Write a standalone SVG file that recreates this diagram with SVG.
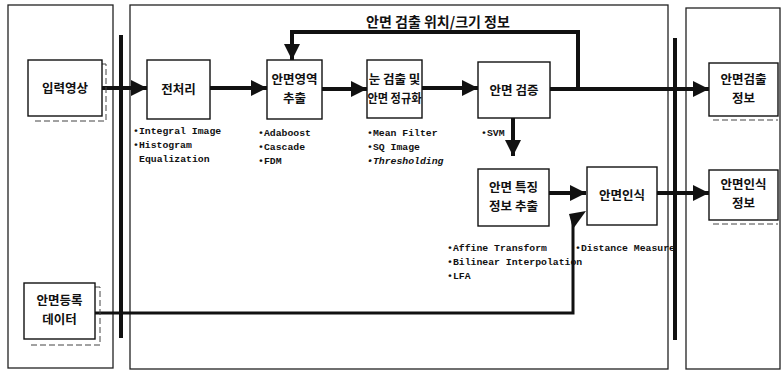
<svg xmlns="http://www.w3.org/2000/svg" width="782" height="372" viewBox="0 0 782 372">
<defs>
<style>
.panel{fill:none;stroke:#222;stroke-width:1.3}
.bar{fill:#111}
.box{fill:#fff;stroke:#111;stroke-width:1.4}
.shadow{fill:none;stroke:#444;stroke-width:1;stroke-dasharray:6 3}
.lbl{font-family:"Noto Sans CJK KR","Noto Sans",sans-serif;font-weight:bold;font-size:12.5px;fill:#111;text-anchor:middle}
.note{font-family:"Liberation Mono","DejaVu Sans Mono",monospace;font-weight:bold;font-size:9.8px;fill:#111}
.title{font-family:"Noto Sans CJK KR",sans-serif;font-weight:bold;font-size:14px;fill:#111;text-anchor:middle}
.wire{fill:none;stroke:#111;stroke-width:4}
.wire2{fill:none;stroke:#111;stroke-width:3}
</style>
<marker id="ah" viewBox="0 0 10 10" refX="10" refY="5" markerWidth="4" markerHeight="4.2" orient="auto" markerUnits="strokeWidth">
<path d="M0,0 L10,5 L0,10 Z" fill="#111"/>
</marker>
</defs>
<rect width="782" height="372" fill="#fff"/>
<g id="panels">
<rect class="panel" x="8" y="5" width="105" height="363"/>
<rect class="panel" x="130" y="5" width="538" height="364"/>
<rect class="panel" x="686" y="8" width="94" height="361"/>
<rect class="bar" x="119" y="35" width="4" height="303"/>
<rect class="bar" x="673" y="38" width="4" height="302"/>
</g>
<g id="connectors">
<path class="wire" d="M102,88 H147" marker-end="url(#ah)"/>
<path class="wire" d="M210,88 H267" marker-end="url(#ah)"/>
<path class="wire" d="M322,89 H367" marker-end="url(#ah)"/>
<path class="wire" d="M422,88 H478" marker-end="url(#ah)"/>
<path class="wire" d="M550,89 H709" marker-end="url(#ah)"/>
<path class="wire" d="M578,89 V32 H292 V60" marker-end="url(#ah)"/>
<path class="wire" d="M513,118 V156" marker-end="url(#ah)"/>
<path class="wire" d="M549,193 H586" marker-end="url(#ah)"/>
<path class="wire" d="M657,193 H709" marker-end="url(#ah)"/>
<path class="wire2" d="M95,313 H573 V222"/>
<polygon points="569,214 586,211 573,229" fill="#111"/>
</g>
<text class="title" x="438" y="27">안면 검출 위치/크기 정보</text>
<g id="input">
<path class="shadow" d="M102,64 H106 V121 H32"/>
<rect class="box" x="28" y="60" width="74" height="56"/>
<text class="lbl" x="65" y="93">입력영상</text>
</g>
<g id="preprocess">
<rect class="box" x="147" y="60" width="63" height="59"/>
<text class="lbl" x="178.5" y="94">전처리</text>
<text class="note" x="133" y="134">•Integral Image</text>
<text class="note" x="133" y="148">•Histogram</text>
<text class="note" x="139" y="162">Equalization</text>
</g>
<g id="face-region">
<rect class="box" x="267" y="60" width="55" height="59"/>
<text class="lbl" x="294.5" y="84">안면영역</text>
<text class="lbl" x="294.5" y="103">추출</text>
<text class="note" x="258" y="136">•Adaboost</text>
<text class="note" x="258" y="150">•Cascade</text>
<text class="note" x="258" y="164">•FDM</text>
</g>
<g id="eye-detect">
<rect class="box" x="367" y="60" width="55" height="58"/>
<text class="lbl" x="394.5" y="84">눈 검출 및</text>
<text class="lbl" x="394.5" y="103" textLength="54" lengthAdjust="spacingAndGlyphs">안면 정규화</text>
<text class="note" x="367" y="136">•Mean Filter</text>
<text class="note" x="367" y="150">•SQ Image</text>
<text class="note" x="367" y="164" font-style="italic">•Thresholding</text>
</g>
<g id="face-verify">
<rect class="box" x="478" y="62" width="72" height="56"/>
<text class="lbl" x="514" y="95">안면 검증</text>
<text class="note" x="481" y="136">•SVM</text>
</g>
<g id="feature">
<rect class="box" x="478" y="169" width="71" height="57"/>
<text class="lbl" x="513.5" y="192">안면 특징</text>
<text class="lbl" x="513.5" y="211">정보 추출</text>
<text class="note" x="447" y="251">•Affine Transform</text>
<text class="note" x="447" y="265">•Bilinear Interpolation</text>
<text class="note" x="447" y="279">•LFA</text>
</g>
<g id="recognize">
<rect class="box" x="587" y="167" width="70" height="58"/>
<text class="lbl" x="622" y="200">안면인식</text>
<text class="note" x="575" y="251">•Distance Measure</text>
</g>
<g id="detect-info">
<path class="shadow" d="M713,120 H778"/>
<rect class="box" x="709" y="63" width="69" height="53"/>
<text class="lbl" x="743.5" y="84">안면검출</text>
<text class="lbl" x="743.5" y="103">정보</text>
</g>
<g id="recog-info">
<path class="shadow" d="M713,224 H778"/>
<rect class="box" x="709" y="170" width="69" height="50"/>
<text class="lbl" x="743.5" y="189">안면인식</text>
<text class="lbl" x="743.5" y="208">정보</text>
</g>
<g id="registered">
<path class="shadow" d="M95,287 H100 V345 H30"/>
<rect class="box" x="24" y="283" width="71" height="56"/>
<text class="lbl" x="59.5" y="305">안면등록</text>
<text class="lbl" x="59.5" y="324">데이터</text>
</g>
</svg>
